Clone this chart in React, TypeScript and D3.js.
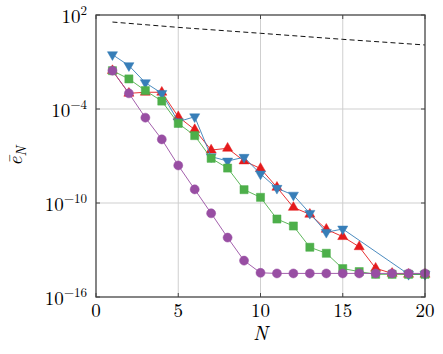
import React from 'react';
import * as d3 from 'd3';

// N values shared by every series
const nAll = [1, 2, 3, 4, 5, 6, 7, 8, 9, 10, 11, 12, 13, 14, 15, 16, 17, 18, 19, 20];

// dashed reference curve
const refN = [1, 5, 10, 15, 20];
const refVals = [35.5, 16.2, 6.8, 2.8, 1.22];

// blue, triangle down (no points between 15 and 19)
const blueN = [1, 2, 3, 4, 5, 6, 7, 8, 9, 10, 11, 12, 13, 14, 15, 19, 20];
const blueVals = [2.95e-1, 5.9e-2, 4.8e-3, 1.0e-3, 1.55e-5, 3.2e-5, 9.1e-8, 4.8e-8, 8.3e-8, 7.1e-9,
  8.7e-10, 3.2e-10, 2.2e-11, 1.35e-12, 2.2e-12, 2.8e-15, 2.8e-15];

// red, triangle up
const redVals = [2.8e-2, 1.0e-3, 1.17e-3, 1.17e-3, 3.2e-5, 4.8e-6, 2.4e-7, 3.1e-7, 4.8e-8, 1.6e-8,
  1.0e-9, 5.2e-11, 1.9e-11, 2.1e-12, 7.1e-13, 1.6e-13, 6.8e-15, 3.2e-15, 2.8e-15, 2.8e-15];

// green, square
const greenVals = [2.8e-2, 8.3e-3, 1.5e-3, 3.2e-4, 1.2e-5, 2.0e-6, 7.1e-8, 1.7e-8, 7.1e-10, 2.3e-10,
  9.5e-12, 3.4e-12, 1.5e-13, 6.2e-14, 6.5e-15, 4.2e-15, 2.8e-15, 2.8e-15, 2.8e-15, 2.8e-15];

// purple, circle
const purpleVals = [2.8e-2, 1.0e-3, 2.8e-5, 1.15e-6, 2.5e-8, 7.4e-10, 2.2e-11, 6.2e-13, 2.1e-14, 3.5e-15,
  3.2e-15, 3.2e-15, 3.2e-15, 3.2e-15, 3.2e-15, 3.2e-15, 3.2e-15, 3.2e-15, 3.2e-15, 3.2e-15];

const xTicks = [0, 5, 10, 15, 20];
const yTicks = [1e2, 1e-4, 1e-10, 1e-16];
const yTickExp = ['2', '\u22124', '\u221210', '\u221216'];

const W = 443;
const H = 354;
const m = { left: 96, right: 18, top: 15, bottom: 57 };
const font = "'Latin Modern Roman', 'Liberation Serif', serif";

export default function App() {
  const x = d3.scaleLinear().domain([0, 20]).range([m.left, W - m.right]);
  const y = d3.scaleLog().domain([1e-16, 1e2]).range([H - m.bottom, m.top]);

  const line = d3.line<[number, number]>()
    .x(d => x(d[0]))
    .y(d => y(d[1]));

  const series = [
    { name: 'red', n: nAll, v: redVals, color: '#e41a1c', sym: d3.symbolTriangle, size: 44, rot: 0 },
    { name: 'blue', n: blueN, v: blueVals, color: '#377eb8', sym: d3.symbolTriangle, size: 44, rot: 180 },
    { name: 'green', n: nAll, v: greenVals, color: '#4daf4a', sym: d3.symbolSquare, size: 66, rot: 0 },
    { name: 'purple', n: nAll, v: purpleVals, color: '#984ea3', sym: d3.symbolCircle, size: 64, rot: 0 },
  ];

  const x0 = m.left, x1 = W - m.right, y0 = m.top, y1 = H - m.bottom;

  return (
    <svg width={W} height={H} style={{ position: 'absolute', left: 0, top: 0, background: '#fff' }}
      fontFamily={font}>
      <defs>
        <clipPath id="plot">
          <rect x={x0} y={y0 - 6} width={x1 - x0 + 6} height={y1 - y0 + 6} />
        </clipPath>
      </defs>
      {/* grid */}
      {xTicks.slice(1, -1).map(t => (
        <line key={'gx' + t} x1={x(t)} x2={x(t)} y1={y0} y2={y1} stroke="#cfcfcf" strokeWidth={1} />
      ))}
      {yTicks.slice(1, -1).map(t => (
        <line key={'gy' + t} x1={x0} x2={x1} y1={y(t)} y2={y(t)} stroke="#cfcfcf" strokeWidth={1} />
      ))}

      {/* dashed reference */}
      <path d={line(refN.map((n, i) => [n, refVals[i]]) as [number, number][]) || ''}
        fill="none" stroke="#111" strokeWidth={1} strokeDasharray="5 3.2" />

      <g clipPath="url(#plot)">
        {series.map(s => (
          <g key={s.name}>
            <path d={line(s.n.map((n, i) => [n, s.v[i]]) as [number, number][]) || ''}
              fill="none" stroke={s.color} strokeWidth={0.9} />
            {s.n.map((n, i) => (
              <path key={i} d={d3.symbol().type(s.sym).size(s.size)() || ''}
                transform={`translate(${x(n)},${y(s.v[i])}) rotate(${s.rot})`}
                fill={s.color} stroke={s.color} strokeWidth={0.5} />
            ))}
          </g>
        ))}
      </g>

      {/* frame */}
      <rect x={x0} y={y0} width={x1 - x0} height={y1 - y0} fill="none" stroke="#444" strokeWidth={1.3} />

      {/* x ticks */}
      {xTicks.map(t => (
        <g key={'xt' + t}>
          <line x1={x(t)} x2={x(t)} y1={y1} y2={y1 - 4} stroke="#444" strokeWidth={1} />
          <line x1={x(t)} x2={x(t)} y1={y0} y2={y0 + 4} stroke="#444" strokeWidth={1} />
          <text x={x(t)} y={y1 + 20} textAnchor="middle" fontSize={19}>{t}</text>
        </g>
      ))}
      {/* y ticks */}
      {yTicks.map((t, i) => (
        <g key={'yt' + t}>
          <line x1={x0} x2={x0 + 4} y1={y(t)} y2={y(t)} stroke="#444" strokeWidth={1} />
          <line x1={x1} x2={x1 - 4} y1={y(t)} y2={y(t)} stroke="#444" strokeWidth={1} />
          <text x={x0 - 9} y={y(t) + 8} textAnchor="end" fontSize={19}>
            10<tspan dy={-8} fontSize={13}>{yTickExp[i]}</tspan>
          </text>
        </g>
      ))}

      {/* axis labels */}
      <text x={(x0 + x1) / 2} y={340} textAnchor="middle" fontSize={20} fontStyle="italic">N</text>
      <text transform={`translate(22,${(y0 + y1) / 2}) rotate(-90)`} textAnchor="middle" fontSize={20}
        fontStyle="italic">
        {'\u0113'}<tspan dy={4} fontSize={14}>N</tspan>
      </text>
    </svg>
  );
}
